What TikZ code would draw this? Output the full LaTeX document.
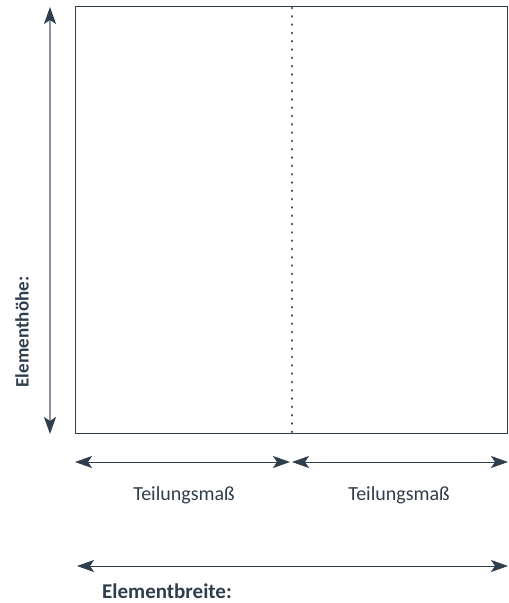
\documentclass[tikz,border=0pt]{standalone}
\usepackage{xcolor}
\usepackage{fontspec}
\setmainfont{Carlito}
\usepackage{tikz}
\usetikzlibrary{arrows.meta,positioning}

\definecolor{slate}{HTML}{2F3E4C}
\definecolor{slategray}{HTML}{8C959D}

\tikzset{
    dimtip/.style={
        >={Stealth[length=17pt,width=12pt,inset=4pt,color=slate]}
    },
    dimline/.style={
        dimtip,
        line width=0.9pt,
        color=slate,
        <->
    },
    dimlabel/.style={
        text=slate,
        inner sep=0pt,
        font=\fontsize{20}{24}\selectfont
    }
}

\begin{document}
\begin{tikzpicture}[x=1pt,y=-1pt]
                \useasboundingbox (0,0) rectangle (509,603);

                \draw[
                    line width=1pt,
                    color=slate
                ] (75,6) rectangle (507,433);

                \draw[
                    line width=2.8pt,
                    color=slate,
                    line cap=round,
                    dash pattern=on 0.01pt off 8.3pt
                ] (292,8) -- (292,433);

                % Hoehe
                \coordinate (hTop) at (50,7);
                \coordinate (hBot) at (50,434);
                \draw[dimline, color=slategray, line width=1.6pt] (hTop) -- (hBot);
                \node[dimlabel, font=\fontsize{19}{22}\selectfont\bfseries, rotate=90] (hoehe) at (22,332) {Elementhöhe:};

                % Teilung
                \coordinate (t1L) at (75,462);
                \coordinate (t1R) at (290,462);
                \coordinate (t2L) at (292,462);
                \coordinate (t2R) at (508,462);
                \draw[dimline] (t1L) -- (t1R);
                \draw[dimline] (t2L) -- (t2R);
                \node[dimlabel] (teil1) at (184,495) {Teilungsmaß};
                \node[dimlabel] (teil2) at (399,495) {Teilungsmaß};

                % Breite
                \coordinate (bL) at (77,566);
                \coordinate (bR) at (508,566);
                \draw[dimline] (bL) -- (bR);
                \node[dimlabel, font=\fontsize{21}{24}\selectfont\bfseries] (breite) at (167,591) {Elementbreite:};

             \end{tikzpicture}
\end{document}
